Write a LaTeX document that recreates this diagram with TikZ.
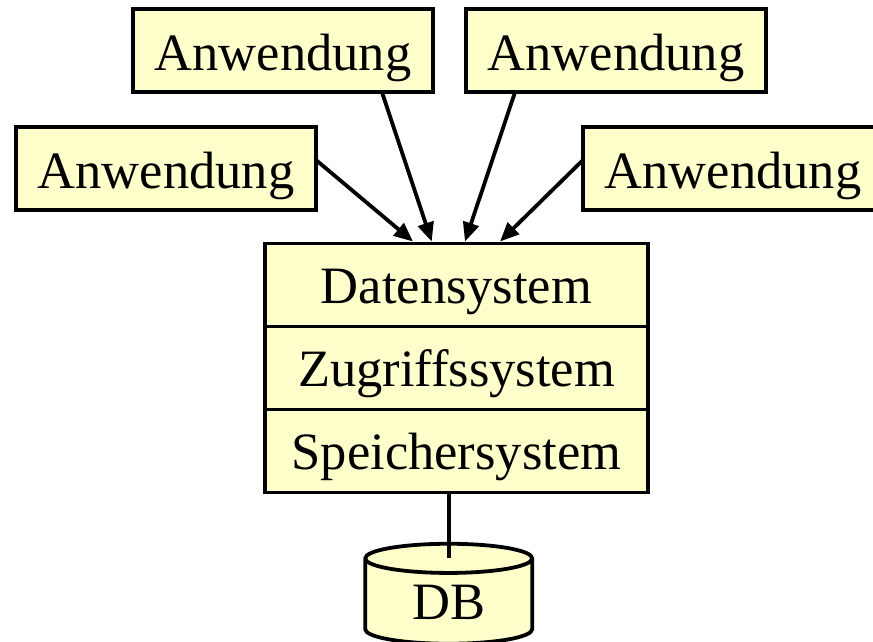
\documentclass[tikz,border=0pt]{standalone}
\usepackage{fontspec}
\setmainfont{Liberation Serif}
\usetikzlibrary{positioning,shapes.geometric,arrows.meta}
\definecolor{hellgelb}{rgb}{1.0,1.0,0.8}
\begin{document}
\begin{tikzpicture}[x=1pt,y=1pt,line width=3.8pt,
    anw/.style={draw,fill=hellgelb,inner sep=0pt,outer sep=0pt,minimum width=300pt,minimum height=83pt,
      font=\fontsize{52.5}{60}\selectfont,text height=42pt,text depth=2pt},
    schicht/.style={draw,fill=hellgelb,inner sep=0pt,outer sep=0pt,minimum width=383pt,minimum height=83pt,
      font=\fontsize{52.5}{60}\selectfont,text height=38pt,text depth=2pt},
    pfeil/.style={-{Triangle[length=19pt,width=16pt]}}]
      \useasboundingbox (0,0) rectangle (873,-641);
      \node (A1) [anw] at (283,-50.75) {Anwendung};
      \node (A2) [anw] at (616,-50.75) {Anwendung};
      \node (A3) [anw] at (166,-168.5) {Anwendung};
      \node (A4) [anw] at (733,-168.5) {Anwendung};
      \node (DS) [schicht] at (456.5,-285) {Datensystem};
      \node (ZS) [schicht, below=0pt of DS] {Zugriffssystem};
      \node (SS) [schicht, below=0pt of ZS] {Speichersystem};
      \node (DB) [cylinder, shape border rotate=90, aspect=0.4, draw, fill=hellgelb, inner sep=0pt,
        minimum height=100pt, minimum width=167pt, font=\fontsize{52.5}{60}\selectfont] at (448.7,-602) {DB};
      \coordinate (DBtop) at (449,-558);
      \draw[pfeil] ([yshift=8.5pt]A3.east) -- ([xshift=-43.5pt,yshift=2pt]DS.north);
      \draw[pfeil] ([xshift=99pt]A1.south) -- ([xshift=-24.8pt,yshift=2pt]DS.north);
      \draw[pfeil] ([xshift=-101pt]A2.south) -- ([xshift=8.5pt,yshift=2pt]DS.north);
      \draw[pfeil] ([yshift=8.5pt]A4.west) -- ([xshift=43.5pt,yshift=2pt]DS.north);
      \draw (DBtop |- SS.south) -- (DBtop);
\end{tikzpicture}
\end{document}
